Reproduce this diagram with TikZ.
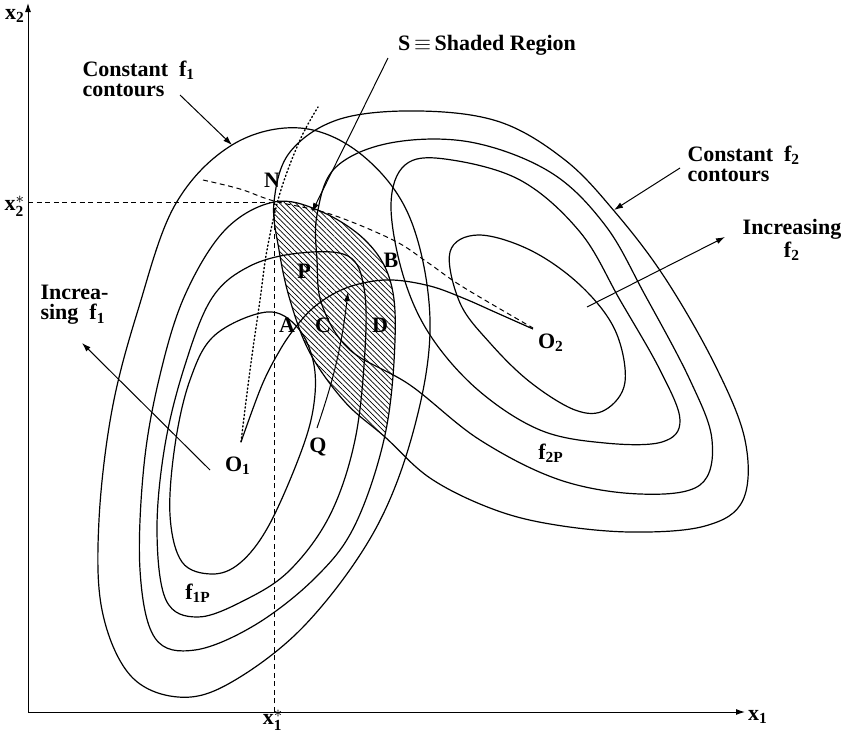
\documentclass[tikz,border=0pt]{standalone}
\usepackage{fontspec}
\setmainfont{Liberation Serif}
\usetikzlibrary{arrows.meta,patterns.meta}

\newcommand{\CFa}{plot[smooth cycle,tension=0.6] coordinates {(267,312) (298,328) (314,365) (313,410) (298,460) (268,527) (240,563) (212,574) (182,562) (170,515) (175,445) (190,380) (215,335)}}
\newcommand{\CFb}{plot[smooth cycle,tension=0.6] coordinates {(250,266) (300,253) (348,256) (364,288) (365,350) (355,440) (330,515) (290,570) (245,600) (198,617) (166,600) (157,530) (165,445) (185,365) (212,298)}}
\newcommand{\CFc}{plot[smooth cycle,tension=0.6] coordinates {(274,202) (320,211) (365,240) (390,280) (395,340) (385,435) (355,525) (315,578) (255,625) (195,650) (155,638) (140,570) (144,465) (160,375) (185,295) (225,230)}}
\newcommand{\CFd}{plot[smooth cycle,tension=0.6] coordinates {(300,128) (362,155) (410,218) (430,320) (415,425) (375,530) (305,625) (230,683) (178,697) (130,675) (102,610) (99,520) (112,410) (138,310) (175,205) (232,145)}}
\newcommand{\CGa}{plot[smooth cycle,tension=0.6] coordinates {(450,252) (478,235) (530,250) (580,285) (615,330) (625,382) (605,410) (575,410) (530,382) (490,343) (460,303)}}
\newcommand{\CGb}{plot[smooth cycle,tension=0.6] coordinates {(391,205) (405,165) (445,159) (520,180) (580,232) (620,300) (660,370) (680,420) (662,442) (605,443) (540,430) (478,390) (430,335) (403,275)}}
\newcommand{\CGc}{plot[smooth cycle,tension=0.6] coordinates {(317,215) (335,168) (390,143) (470,142) (550,172) (605,225) (645,295) (690,380) (712,440) (700,485) (640,494) (560,480) (480,440) (410,385) (350,350) (322,305) (317,260)}}
\newcommand{\CGd}{plot[smooth cycle,tension=0.6] coordinates {(274,202) (290,152) (340,119) (420,111) (500,122) (565,160) (615,212) (665,278) (715,365) (745,440) (743,500) (705,526) (630,532) (550,524) (490,508) (430,478) (385,437) (345,402) (310,353) (290,300) (279,250)}}

\begin{document}
\begin{tikzpicture}[x=0.5pt,y=-0.5pt,line width=0.55pt,
  contour/.style={line width=0.6pt},
  lbl/.style={font=\bfseries\fontsize{11}{10}\selectfont,inner sep=0pt},
  arr/.style={-{Latex[length=4.5pt,width=3pt]},line width=0.5pt},
  dashln/.style={dash pattern=on 2.5pt off 1.8pt,line width=0.5pt},
  dotln/.style={dash pattern=on 0.6pt off 1.3pt,line width=0.7pt,line cap=round}]
\useasboundingbox (0,0) rectangle (847,735);

% shaded region S
\begin{scope}
  \clip \CFc;
  \fill[pattern={Lines[angle=-45,distance=1.9pt,line width=0.35pt]}] \CGd;
\end{scope}

% contours
\draw[contour] \CFa;
\draw[contour] \CFb;
\draw[contour] \CFc;
\draw[contour] \CFd;
\draw[contour] \CGa;
\draw[contour] \CGb;
\draw[contour] \CGc;
\draw[contour] \CGd;

% coordinates
\coordinate (orig) at (28,712);
\coordinate (ytop) at (28,3);
\coordinate (xend) at (745,712);
\coordinate (N) at (274,202);
\coordinate (x1foot) at (274,712);
\coordinate (x2foot) at (28,202);
\coordinate (O1) at (241,442);
\coordinate (O2) at (533,329);

% axes
\draw[arr] (orig) -- (ytop);
\draw[arr] (orig) -- (xend);
\draw[dashln] (x2foot) -- (N);
\draw[dashln] (x1foot) -- (N);

% O1-O2 curve
\draw[line width=0.6pt] plot[smooth,tension=0.6] coordinates {(241,442) (262,385) (280,350) (295,328) (313,308) (337,292) (363,283) (393,280) (430,286) (463,298) (497,313) (533,329)};
% dashed curve through N
\draw[dashln] plot[smooth,tension=0.6] coordinates {(203,180) (240,189) (274,201) (330,214) (393,240) (427,262) (463,287) (533,328)};
% dotted curve
\draw[dotln] plot[smooth,tension=0.6] coordinates {(241,442) (250,370) (260,300) (267,250) (280,193) (300,140) (318,107)};

% labels
\node[lbl] (nx2) at (15,16) {x\textsubscript{2}};
\node[lbl] (nx2s) at (15,206) {x$^{\ast}_{\mathbf{2}}$};
\node[lbl] (nx1) at (758,717) {x\textsubscript{1}};
\node[lbl] (nx1s) at (273,720) {x$^{\ast}_{\mathbf{1}}$};
\node[lbl,align=left,anchor=north west] (ncf1) at (82,60) {Constant\ \ f\textsubscript{1}\\contours};
\node[lbl,align=left,anchor=north west] (ncf2) at (687,145) {Constant\ \ f\textsubscript{2}\\contours};
\node[lbl,align=center] (ninc2) at (792,240) {Increasing\\f\textsubscript{2}};
\node[lbl,align=left,anchor=north west] (ninc1) at (40,285) {Increa-\\sing\ \ f\textsubscript{1}};
\node[lbl] (nS) at (487,45) {S\,$\equiv$\,Shaded Region};
\node[lbl] (nO1) at (238,466) {O\textsubscript{1}};
\node[lbl] (nO2) at (551,343) {O\textsubscript{2}};
\node[lbl] (nN) at (272,180) {N};
\node[lbl] (nP) at (304,271) {P};
\node[lbl] (nB) at (391,260) {B};
\node[lbl] (nA) at (287,325) {A};
\node[lbl] (nC) at (323,325) {C};
\node[lbl] (nD) at (380,325) {D};
\node[lbl] (nQ) at (318,447) {Q};
\node[lbl] (nf1P) at (198,593) {f\textsubscript{1P}};
\node[lbl] (nf2P) at (551,453) {f\textsubscript{2P}};

% leader arrows
\coordinate (cf1s) at (180,95);
\coordinate (cf1e) at (232,145);
\coordinate (cf2s) at (680,168);
\coordinate (cf2e) at (614,210);
\coordinate (i2s) at (587,307);
\coordinate (i2e) at (725,237);
\coordinate (i1s) at (210,470);
\coordinate (i1e) at (82,343);
\coordinate (Ss) at (388,58);
\coordinate (Se) at (312,212);
\coordinate (Qs) at (317,428);
\coordinate (Qe) at (348,292);
\draw[arr] (cf1s) -- (cf1e);
\draw[arr] (cf2s) -- (cf2e);
\draw[arr] (i2s) -- (i2e);
\draw[arr] (i1s) -- (i1e);
\draw[arr] (Ss) -- (Se);
\draw[arr] (Qs) to[bend right=6] (Qe);
\end{tikzpicture}
\end{document}
